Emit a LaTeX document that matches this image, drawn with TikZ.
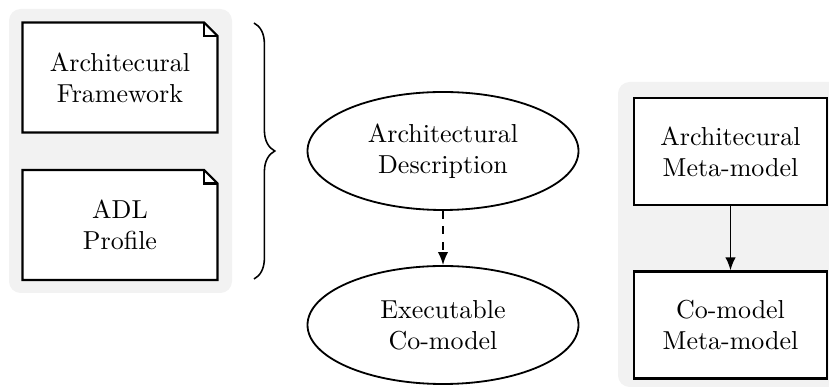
\documentclass[tikz,border=0pt]{standalone}
\usetikzlibrary{calc,shapes.geometric,decorations.pathreplacing,arrows.meta}
\definecolor{panelgray}{HTML}{F2F2F2}
\tikzset{
  panel/.style={fill=panelgray,draw=none,rounded corners=4.5pt},
  notebox/.style={minimum width=194*0.385pt,minimum height=109*0.385pt,align=center,inner sep=0pt},
  metabox/.style={draw,fill=white,thick,minimum width=193*0.385pt,minimum height=107*0.385pt,align=center,inner sep=0pt},
  oval/.style={ellipse,draw,fill=white,semithick,line width=0.7pt,minimum width=271*0.385pt,minimum height=118*0.385pt,align=center,inner sep=0pt},
  arr/.style={-{Latex[length=5pt,width=4pt]},line width=0.7pt},
  dog/.style={thick,line join=miter}
}
\newcommand{\notedraw}[1]{%
  \draw[dog,fill=white] (#1.north west) -- ($(#1.north east)+(-5.2pt,0)$) -- ($(#1.north east)+(0,-5.2pt)$) -- (#1.south east) -- (#1.south west) -- cycle;
  \draw[dog] ($(#1.north east)+(-5.2pt,0)$) -- ($(#1.north east)+(-5.2pt,-5.2pt)$) -- ($(#1.north east)+(0,-5.2pt)$);
}
\begin{document}
\begin{tikzpicture}[x=0.385pt,y=-0.385pt]
\useasboundingbox (0,0) rectangle (829,389);
\clip (0,0) rectangle (829,389);
% panels
\fill[panel] (9,9) rectangle (232,293);
\fill[panel] (618,82) rectangle (860,387);
% left notes
\coordinate (afc) at (120,77.5);
\coordinate (adlc) at (120,225);
\node[notebox] (af0) at (afc) {};
\node[notebox] (adl0) at (adlc) {};
\notedraw{af0}
\notedraw{adl0}
\node[align=center] (af) at (afc) {Architecural\\Framework};
\node[align=center] (adl) at (adlc) {ADL\\Profile};
% brace
\coordinate (bt) at (254,23);
\coordinate (bb) at (254,279);
\draw[line width=0.6pt,decorate,decoration={brace,amplitude=8pt,aspect=0.5}] (bt) -- (bb);
% ellipses
\node[oval] (ad) at (443,151) {Architectural\\Description};
\node[oval] (ec) at (443,325) {Executable\\Co-model};
\draw[arr,dashed] (ad) -- (ec);
% right boxes
\node[metabox] (am) at (730.5,151.5) {Architecural\\Meta-model};
\node[metabox] (cm) at (730.5,325) {Co-model\\Meta-model};
\draw[arr] (am) -- (cm);
\end{tikzpicture}
\end{document}
